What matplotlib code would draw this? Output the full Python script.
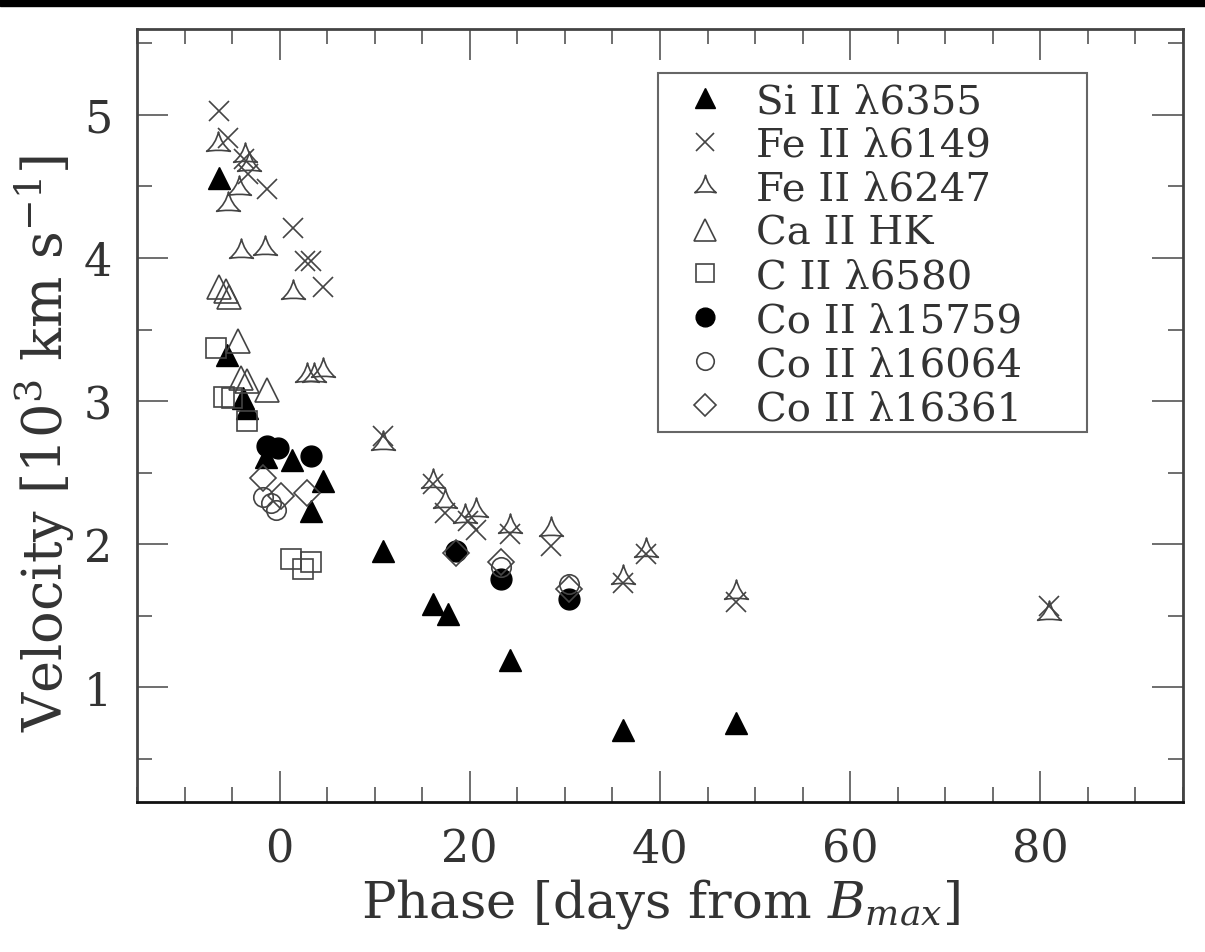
import matplotlib
matplotlib.use("Agg")
import matplotlib.pyplot as plt
from matplotlib.path import Path
from matplotlib.patches import Rectangle
from matplotlib.ticker import MultipleLocator

# data (phase in days, velocity in 10^3 km/s)
si_phase = [-6.4, -5.5, -3.9, -3.4, -1.4, 1.3, 3.3, 4.6, 10.9, 16.1, 17.7, 24.2, 36.1, 48.0]
si_vel = [4.56, 3.32, 3.02, 2.95, 2.61, 2.59, 2.23, 2.44, 1.95, 1.58, 1.51, 1.19, 0.70, 0.75]

fe6149_phase = [-6.4, -5.4, -3.8, -3.3, -1.3, 1.4, 2.7, 3.3, 4.6, 10.9,
                16.1, 17.4, 19.8, 20.6, 24.2, 28.5, 36.1, 38.5, 48.0, 80.9]
fe6149_vel = [5.03, 4.84, 4.69, 4.59, 4.48, 4.21, 3.98, 3.98, 3.80, 2.76,
              2.42, 2.22, 2.16, 2.10, 2.07, 1.99, 1.73, 1.93, 1.60, 1.57]

fe6247_phase = [-6.5, -3.6, -3.2, -4.3, -5.4, -4.1, -1.5, 1.4, 2.9, 3.6, 4.6,
                10.9, 16.1, 17.4, 19.5, 20.6, 24.2, 28.5, 36.1, 38.5, 48.0, 80.9]
fe6247_vel = [4.80, 4.72, 4.66, 4.49, 4.38, 4.05, 4.07, 3.76, 3.18, 3.18, 3.22,
              2.71, 2.44, 2.30, 2.20, 2.24, 2.13, 2.11, 1.77, 1.96, 1.67, 1.52]

ca_phase = [-6.4, -5.6, -5.3, -4.4, -4.1, -3.4, -1.3]
ca_vel = [3.80, 3.77, 3.73, 3.42, 3.16, 3.14, 3.08]

c_phase = [-6.7, -5.9, -5.0, -3.4, 1.2, 2.5, 3.3]
c_vel = [3.37, 3.03, 3.02, 2.86, 1.90, 1.83, 1.88]

co15759_phase = [-1.3, -0.2, 3.3, 18.5, 23.3, 30.4]
co15759_vel = [2.69, 2.67, 2.62, 1.95, 1.76, 1.62]

co16064_phase = [-1.7, -0.9, -0.4, 23.3, 30.4]
co16064_vel = [2.33, 2.29, 2.24, 1.84, 1.72]

co16361_phase = [-1.7, 0.1, 2.9, 18.5, 23.3, 30.4]
co16361_vel = [2.46, 2.34, 2.36, 1.94, 1.88, 1.69]

plt.rcParams['font.family'] = ['DejaVu Serif']
plt.rcParams['mathtext.fontset'] = 'dejavuserif'

# concave triangle (pgplot-like symbol) for Fe II 6247
star_verts = [(0, 1.0), (-0.22, 0.05), (-0.95, -0.55),
              (0, -0.38), (0.95, -0.55),
              (0.22, 0.05), (0, 1.0), (0, 1.0)]
star_codes = [Path.MOVETO, Path.CURVE3, Path.CURVE3,
              Path.CURVE3, Path.CURVE3,
              Path.CURVE3, Path.CURVE3, Path.CLOSEPOLY]
tri_marker = Path(star_verts, star_codes)

fig = plt.figure(figsize=(12.05, 9.53), dpi=100)
ax = fig.add_axes([0.1137, 0.1574, 0.868, 0.8111])
fig.patches.append(Rectangle((0, 0.9925), 1, 0.0075, transform=fig.transFigure,
                             color='black', zorder=10))

ax.plot(si_phase, si_vel, ls='none', marker='^', ms=16, color='black',
        mec='black', label='Si II λ6355')
ax.plot(fe6149_phase, fe6149_vel, ls='none', marker='x', ms=15, mew=1.2,
        color='#444444', label='Fe II λ6149')
ax.plot(fe6247_phase, fe6247_vel, ls='none', marker=tri_marker, ms=18, mew=1.2,
        mfc='none', mec='#444444', label='Fe II λ6247')
ax.plot(ca_phase, ca_vel, ls='none', marker='^', ms=17, mew=1.2,
        mfc='none', mec='#444444', label='Ca II HK')
ax.plot(c_phase, c_vel, ls='none', marker='s', ms=15, mew=1.2,
        mfc='none', mec='#444444', label='C II λ6580')
ax.plot(co15759_phase, co15759_vel, ls='none', marker='o', ms=15,
        color='black', label='Co II λ15759')
ax.plot(co16064_phase, co16064_vel, ls='none', marker='o', ms=14, mew=1.2,
        mfc='none', mec='#444444', label='Co II λ16064')
ax.plot(co16361_phase, co16361_vel, ls='none', marker='D', ms=13, mew=1.2,
        mfc='none', mec='#444444', label='Co II λ16361')

ax.set_xlim(-15, 95)
ax.set_ylim(0.2, 5.6)
ax.xaxis.set_major_locator(MultipleLocator(20))
ax.xaxis.set_minor_locator(MultipleLocator(5))
ax.yaxis.set_major_locator(MultipleLocator(1))
ax.yaxis.set_minor_locator(MultipleLocator(0.5))
ax.tick_params(which='both', direction='in', top=True, right=True,
               color='#555555', width=1.2)
ax.tick_params(which='major', length=22, labelsize=32, pad=18, labelcolor='#333333')
ax.tick_params(which='minor', length=11)
for sp in ax.spines.values():
    sp.set_linewidth(2)
    sp.set_color('#444444')
ax.spines['bottom'].set_color('#111111')

ax.set_xlabel('Phase [days from $B_{max}$]', fontsize=37, color='#333333', labelpad=4)
ax.set_ylabel('Velocity [10$^3$ km s$^{-1}$]', fontsize=39, color='#333333', labelpad=5)
ax.yaxis.label.set_y(0.465)

# legend frame drawn separately so the padding can be wider than tall
ax.add_patch(Rectangle((0.498, 0.479), 0.41, 0.464, transform=ax.transAxes,
                       facecolor='white', edgecolor='#666666', lw=1.5, zorder=4))
leg = ax.legend(loc='upper left', bbox_to_anchor=(0.52, 0.930), fontsize=29,
                frameon=False, handlelength=1.2, handletextpad=0.67,
                labelspacing=0.17, borderpad=0, borderaxespad=0, markerscale=0.9)
leg.set_zorder(5)
for t in leg.get_texts():
    t.set_color('#333333')

fig.savefig('out.png', dpi=100)
